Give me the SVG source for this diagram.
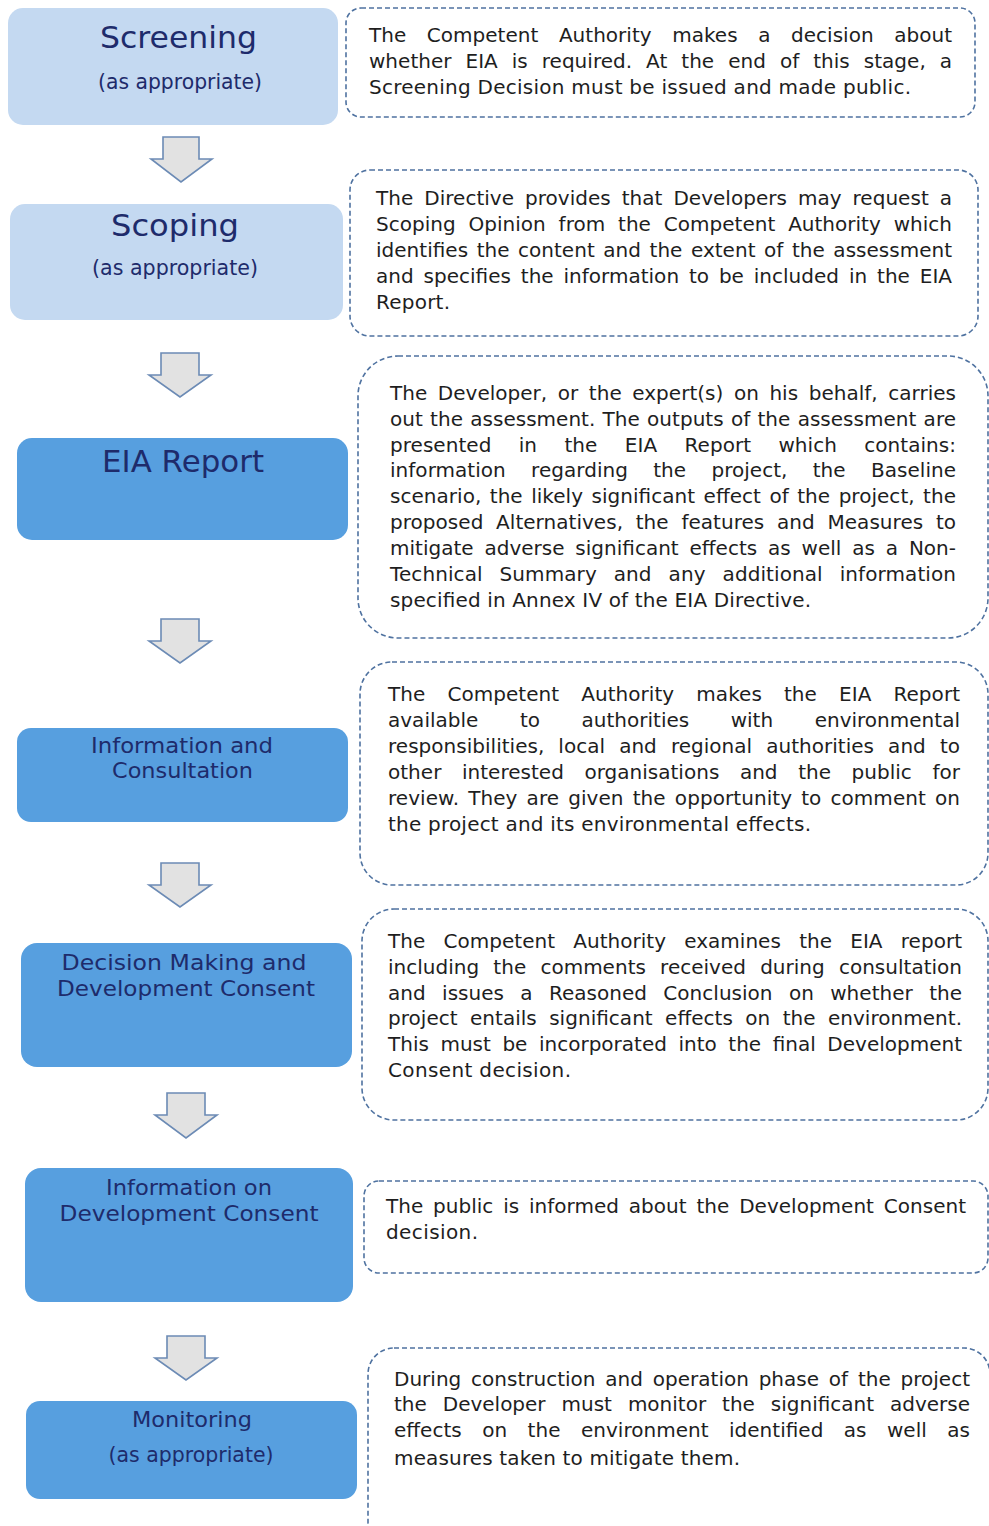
<svg xmlns="http://www.w3.org/2000/svg" width="989" height="1526" viewBox="0 0 989 1526">
<style>
.light{fill:#C4D9F1;}
.dark{fill:#579FDF;}
.ttl{font-family:"DejaVu Sans","Liberation Sans",sans-serif;fill:#1E2B6B;text-anchor:middle;}
.t30{font-size:30px;}
.t31{font-size:31px;}
.t22{font-size:22px;}
.t20{font-size:20.5px;}
.note{fill:#FFFFFF;stroke:#4F72A0;stroke-width:1.6;stroke-dasharray:5 3;}
.body{font-family:"DejaVu Sans","Liberation Sans",sans-serif;font-size:20px;fill:#1E1E1E;}
.arrow{fill:#E2E2E2;stroke:#6C8BB5;stroke-width:1.6;stroke-linejoin:miter;}
</style>
<rect width="989" height="1526" fill="#FFFFFF"/>

<g id="screening">
<rect class="light" x="8" y="8" width="330" height="117" rx="15"/>
<text class="ttl t30" x="178.5" y="48" textLength="157" lengthAdjust="spacingAndGlyphs">Screening</text>
<text class="ttl t20" x="180" y="89" textLength="164" lengthAdjust="spacingAndGlyphs">(as appropriate)</text>
</g>
<g id="screening-note">
<rect class="note" x="346" y="8" width="629" height="109" rx="15"/>
<text class="body" x="369" y="42" style="word-spacing:14.2px" textLength="583" lengthAdjust="spacing">The Competent Authority makes a decision about</text>
<text class="body" x="369" y="68" style="word-spacing:7.6px" textLength="583" lengthAdjust="spacing">whether EIA is required. At the end of this stage, a</text>
<text class="body" x="369" y="94" textLength="542" lengthAdjust="spacing">Screening Decision must be issued and made public.</text>
</g>

<g id="scoping">
<rect class="light" x="10" y="204" width="333" height="116" rx="15"/>
<text class="ttl t30" x="175" y="236" textLength="128" lengthAdjust="spacingAndGlyphs">Scoping</text>
<text class="ttl t20" x="175" y="275" textLength="166" lengthAdjust="spacingAndGlyphs">(as appropriate)</text>
</g>
<g id="scoping-note">
<rect class="note" x="350" y="170" width="628" height="166" rx="20"/>
<text class="body" x="376" y="205" style="word-spacing:4.6px" textLength="576" lengthAdjust="spacing">The Directive provides that Developers may request a</text>
<text class="body" x="376" y="231" style="word-spacing:6.5px" textLength="576" lengthAdjust="spacing">Scoping Opinion from the Competent Authority which</text>
<text class="body" x="376" y="257" style="word-spacing:2.2px" textLength="576" lengthAdjust="spacing">identifies the content and the extent of the assessment</text>
<text class="body" x="376" y="283" style="word-spacing:3.5px" textLength="576" lengthAdjust="spacing">and specifies the information to be included in the EIA</text>
<text class="body" x="376" y="309" textLength="74" lengthAdjust="spacing">Report.</text>
</g>

<g id="eia-report">
<rect class="dark" x="17" y="438" width="331" height="102" rx="15"/>
<text class="ttl t31" x="183" y="472" textLength="162" lengthAdjust="spacingAndGlyphs">EIA Report</text>
</g>
<g id="eia-report-note">
<rect class="note" x="358" y="356" width="630" height="282" rx="40"/>
<text class="body" x="390" y="400" style="word-spacing:4.2px" textLength="566" lengthAdjust="spacing">The Developer, or the expert(s) on his behalf, carries</text>
<text class="body" x="390" y="426" style="word-spacing:0.9px" textLength="566" lengthAdjust="spacing">out the assessment. The outputs of the assessment are</text>
<text class="body" x="390" y="452" style="word-spacing:21px" textLength="566" lengthAdjust="spacing">presented in the EIA Report which contains:</text>
<text class="body" x="390" y="477" style="word-spacing:18.9px" textLength="566" lengthAdjust="spacing">information regarding the project, the Baseline</text>
<text class="body" x="390" y="503" style="word-spacing:2.1px" textLength="566" lengthAdjust="spacing">scenario, the likely significant effect of the project, the</text>
<text class="body" x="390" y="529" style="word-spacing:6.3px" textLength="566" lengthAdjust="spacing">proposed Alternatives, the features and Measures to</text>
<text class="body" x="390" y="555" style="word-spacing:4.5px" textLength="566" lengthAdjust="spacing">mitigate adverse significant effects as well as a Non-</text>
<text class="body" x="390" y="581" style="word-spacing:10.5px" textLength="566" lengthAdjust="spacing">Technical Summary and any additional information</text>
<text class="body" x="390" y="607" textLength="421" lengthAdjust="spacing">specified in Annex IV of the EIA Directive.</text>
</g>

<g id="information-consultation">
<rect class="dark" x="17" y="728" width="331" height="94" rx="14"/>
<text class="ttl t22" x="182" y="753" textLength="182" lengthAdjust="spacingAndGlyphs">Information and</text>
<text class="ttl t22" x="182.5" y="778" textLength="141" lengthAdjust="spacingAndGlyphs">Consultation</text>
</g>
<g id="information-consultation-note">
<rect class="note" x="360" y="662" width="628" height="223" rx="32"/>
<text class="body" x="388" y="701" style="word-spacing:15.7px" textLength="572" lengthAdjust="spacing">The Competent Authority makes the EIA Report</text>
<text class="body" x="388" y="727" style="word-spacing:35.1px" textLength="572" lengthAdjust="spacing">available to authorities with environmental</text>
<text class="body" x="388" y="753" style="word-spacing:7.7px" textLength="572" lengthAdjust="spacing">responsibilities, local and regional authorities and to</text>
<text class="body" x="388" y="779" style="word-spacing:14.2px" textLength="572" lengthAdjust="spacing">other interested organisations and the public for</text>
<text class="body" x="388" y="805" style="word-spacing:2.7px" textLength="572" lengthAdjust="spacing">review. They are given the opportunity to comment on</text>
<text class="body" x="388" y="831" textLength="423" lengthAdjust="spacing">the project and its environmental effects.</text>
</g>

<g id="decision-making">
<rect class="dark" x="21" y="943" width="331" height="124" rx="16"/>
<text class="ttl t22" x="184" y="970" textLength="245" lengthAdjust="spacingAndGlyphs">Decision Making and</text>
<text class="ttl t22" x="186" y="996" textLength="258" lengthAdjust="spacingAndGlyphs">Development Consent</text>
</g>
<g id="decision-making-note">
<rect class="note" x="362" y="909" width="626" height="211" rx="32"/>
<text class="body" x="388" y="948" style="word-spacing:11.9px" textLength="574" lengthAdjust="spacing">The Competent Authority examines the EIA report</text>
<text class="body" x="388" y="974" style="word-spacing:7.8px" textLength="574" lengthAdjust="spacing">including the comments received during consultation</text>
<text class="body" x="388" y="1000" style="word-spacing:10px" textLength="574" lengthAdjust="spacing">and issues a Reasoned Conclusion on whether the</text>
<text class="body" x="388" y="1025" style="word-spacing:6px" textLength="574" lengthAdjust="spacing">project entails significant effects on the environment.</text>
<text class="body" x="388" y="1051" style="word-spacing:5.2px" textLength="574" lengthAdjust="spacing">This must be incorporated into the final Development</text>
<text class="body" x="388" y="1077" textLength="183" lengthAdjust="spacing">Consent decision.</text>
</g>

<g id="information-development-consent">
<rect class="dark" x="25" y="1168" width="328" height="134" rx="16"/>
<text class="ttl t22" x="189" y="1195" textLength="166" lengthAdjust="spacingAndGlyphs">Information on</text>
<text class="ttl t22" x="189" y="1221" textLength="259" lengthAdjust="spacingAndGlyphs">Development Consent</text>
</g>
<g id="information-development-consent-note">
<rect class="note" x="364" y="1181" width="624" height="92" rx="15"/>
<text class="body" x="386" y="1213" style="word-spacing:3.5px" textLength="580" lengthAdjust="spacing">The public is informed about the Development Consent</text>
<text class="body" x="386" y="1239" textLength="92" lengthAdjust="spacing">decision.</text>
</g>

<g id="monitoring">
<rect class="dark" x="26" y="1401" width="331" height="98" rx="14"/>
<text class="ttl t22" x="192" y="1427" textLength="120" lengthAdjust="spacingAndGlyphs">Monitoring</text>
<text class="ttl t20" x="191" y="1462" textLength="165" lengthAdjust="spacingAndGlyphs">(as appropriate)</text>
</g>
<g id="monitoring-note">
<rect class="note" x="368" y="1348" width="622" height="200" rx="26"/>
<text class="body" x="394" y="1386" style="word-spacing:3.4px" textLength="576" lengthAdjust="spacing">During construction and operation phase of the project</text>
<text class="body" x="394" y="1411" style="word-spacing:9.6px" textLength="576" lengthAdjust="spacing">the Developer must monitor the significant adverse</text>
<text class="body" x="394" y="1437" style="word-spacing:14.1px" textLength="576" lengthAdjust="spacing">effects on the environment identified as well as</text>
<text class="body" x="394" y="1465" textLength="346" lengthAdjust="spacing">measures taken to mitigate them.</text>
</g>

<g id="connectors">
<polygon class="arrow" points="163,137 199,137 199,159 212,159 181,182 151,159 163,159"/>
<polygon class="arrow" points="161,353 199,353 199,375 211,375 180,397 149,375 161,375"/>
<polygon class="arrow" points="161,619 199,619 199,641 211,641 180,663 149,641 161,641"/>
<polygon class="arrow" points="161,863 199,863 199,885 211,885 180,907 149,885 161,885"/>
<polygon class="arrow" points="167,1093 205,1093 205,1115 217,1115 186,1138 155,1115 167,1115"/>
<polygon class="arrow" points="167,1336 205,1336 205,1358 217,1358 186,1380 155,1358 167,1358"/>
</g>
</svg>
